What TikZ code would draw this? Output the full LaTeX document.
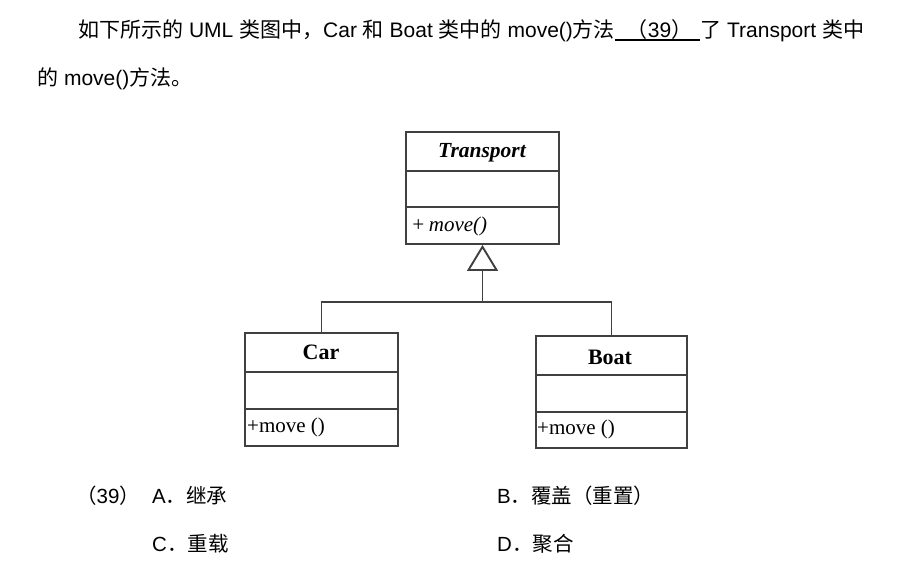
\documentclass[tikz,border=0pt]{standalone}
\usepackage{fontspec}
\setmainfont{Liberation Sans}
\newfontfamily\cjk{Noto Sans CJK SC}
\newfontfamily\umlfont{Liberation Serif}
\usetikzlibrary{arrows.meta}
\newcommand\zh[1]{{\cjk #1}}
\newcommand\blankline[1]{\setbox0\hbox{#1}\rlap{\rule[-4pt]{\wd0}{1.6pt}}\box0}
\begin{document}
\begin{tikzpicture}[x=1pt,y=-1pt,
  txt/.style={anchor=base west, inner sep=0pt, font=\fontsize{21}{24}\selectfont},
  opt/.style={anchor=base west, inner sep=0pt, font=\fontsize{20.5}{24}\selectfont},
  cls/.style={draw=black!75, line width=1.9pt, inner sep=0pt},
  sep/.style={draw=black!75, line width=1.7pt},
  umltxt/.style={inner sep=0pt, font=\umlfont\fontsize{21}{24}\selectfont},
  link/.style={draw=black!75, line width=1.9pt}]
\useasboundingbox (0,0) rectangle (920,566);

% header text
\node[txt] (l1) at (78,37) {\zh{如下所示的} UML \zh{类图中，}Car \zh{和} Boat \zh{类中的} move()\zh{方法}\blankline{\hspace{12pt}\zh{（}39\zh{）}\hspace{8pt}}\zh{了} Transport \zh{类中}};
\node[txt] (l2) at (37,85) {\zh{的} move()\zh{方法。}};

% classes
\node[cls, minimum width=153pt, minimum height=112pt] (tr) at (482.5,188) {};
\node[cls, minimum width=153pt, minimum height=113pt] (car) at (321.5,389.5) {};
\node[cls, minimum width=151pt, minimum height=112pt] (boat) at (611.5,392) {};

\draw[sep] ([yshift=-40pt]tr.north west) -- ([yshift=-40pt]tr.north east);
\draw[sep] ([yshift=-76pt]tr.north west) -- ([yshift=-76pt]tr.north east);
\draw[sep] ([yshift=-40pt]car.north west) -- ([yshift=-40pt]car.north east);
\draw[sep] ([yshift=-77pt]car.north west) -- ([yshift=-77pt]car.north east);
\draw[sep] ([yshift=-40pt]boat.north west) -- ([yshift=-40pt]boat.north east);
\draw[sep] ([yshift=-77pt]boat.north west) -- ([yshift=-77pt]boat.north east);

\node[umltxt, font=\umlfont\fontsize{21.5}{24}\selectfont\bfseries\itshape] (trn) at (482,153) {Transport};
\node[umltxt, anchor=west, font=\umlfont\fontsize{21}{24}\selectfont\itshape] (trm) at (411,226) {+\,move()};
\node[umltxt, font=\umlfont\fontsize{22}{24}\selectfont\bfseries] (carn) at (321,352) {Car};
\node[umltxt, anchor=west] (carm) at (247,427) {+move ()};
\node[umltxt, font=\umlfont\fontsize{22}{24}\selectfont\bfseries] (boatn) at (610,357) {Boat};
\node[umltxt, anchor=west] (boatm) at (537,429) {+move ()};

% generalization
\coordinate (j) at (482.5,302);
\draw[link] (car.north) |- (j);
\draw[link] (boat.north) |- (j);
\draw[link, -{Triangle[open, length=26pt, width=31pt]}] (j) -- (tr.south);

% options
\node[opt] (q) at (76,503) {\zh{（}39\zh{）}};
\node[opt] (oa) at (152,503) {A\zh{．继承}};
\node[opt] (ob) at (497,503) {B\zh{．覆盖（重置）}};
\node[opt] (oc) at (152,551) {C\zh{．重载}};
\node[opt] (od) at (497,551) {D\zh{．聚合}};
\end{tikzpicture}
\end{document}
